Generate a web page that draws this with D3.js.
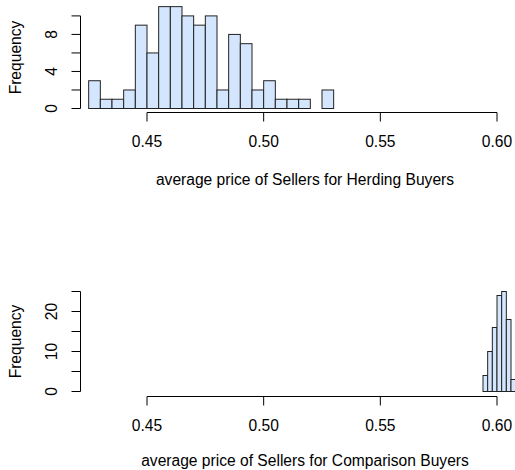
<!DOCTYPE html>
<html>
<head>
<meta charset="utf-8">
<script src="https://cdn.jsdelivr.net/npm/d3@7/dist/d3.min.js"></script>
<style>
  html, body { margin: 0; padding: 0; background: #fff; }
  svg { display: block; }
  text { font-family: "Liberation Sans", Arial, Helvetica, sans-serif; fill: #000; }
</style>
</head>
<body>
<svg id="chart" width="515" height="470"></svg>
<script>
// ---- data ----
// Herding buyers: histogram bins (width 0.005) starting at 0.425
const herdingBinStarts = [0.425, 0.430, 0.435, 0.440, 0.445, 0.450, 0.455, 0.460, 0.465, 0.470,
                          0.475, 0.480, 0.485, 0.490, 0.495, 0.500, 0.505, 0.510, 0.515, 0.520, 0.525];
const herdingCounts    = [3, 1, 1, 2, 9, 6, 11, 11, 10, 9, 10, 2, 8, 7, 2, 3, 1, 1, 1, 0, 2];
const herdingBinWidth  = 0.005;
// Comparison buyers: histogram bins (width 0.002) starting at 0.594
const comparisonBinStarts = [0.594, 0.596, 0.598, 0.600, 0.602, 0.604, 0.606];
const comparisonCounts    = [4, 10, 16, 24, 25, 18, 3];
const comparisonBinWidth  = 0.002;
// ticks
const xTicks = [0.45, 0.50, 0.55, 0.60];
const herdingYTicks = [0, 2, 4, 6, 8, 10];
const herdingYLabels = [0, 4, 8];
const comparisonYTicks = [0, 5, 10, 15, 20, 25];
const comparisonYLabels = [0, 10, 20];
const titles = ["average price of Sellers for Herding Buyers", "average price of Sellers for Comparison Buyers"];
const yTitle = "Frequency";

// ---- layout ----
const svg = d3.select("#chart");
const fontSize = 15.6;
const fill = "#d4e6fd";

function panel(opts) {
  const g = svg.append("g");
  const x = d3.scaleLinear().domain([0.45, 0.60]).range([147, 497]);
  const y = d3.scaleLinear().domain([0, opts.ymaxTick]).range([opts.y0, opts.yTop]);

  // bars
  g.selectAll("rect.bar")
    .data(opts.starts.map((s, i) => ({ s, c: opts.counts[i] })).filter(d => d.c > 0))
    .join("rect")
    .attr("class", "bar")
    .attr("x", d => x(d.s))
    .attr("width", d => x(d.s + opts.bw) - x(d.s))
    .attr("y", d => y(d.c))
    .attr("height", d => y(0) - y(d.c))
    .attr("fill", fill)
    .attr("stroke", "#222")
    .attr("stroke-width", 1);

  // x axis
  const xa = g.append("g").attr("transform", `translate(0,${opts.axisY})`);
  xa.append("line")
    .attr("x1", x(xTicks[0])).attr("x2", x(xTicks[xTicks.length - 1]))
    .attr("y1", 0).attr("y2", 0).attr("stroke", "#000");
  xa.selectAll("line.tick").data(xTicks).join("line").attr("class", "tick")
    .attr("x1", d => x(d)).attr("x2", d => x(d)).attr("y1", 0).attr("y2", 9).attr("stroke", "#000");
  xa.selectAll("text").data(xTicks).join("text")
    .attr("x", d => x(d)).attr("y", 34.5)
    .attr("text-anchor", "middle").attr("font-size", fontSize)
    .text(d => d3.format(".2f")(d));
  g.append("text")
    .attr("x", 305).attr("y", opts.titleY)
    .attr("text-anchor", "middle").attr("font-size", fontSize)
    .text(opts.title);

  // y axis
  const ya = g.append("g").attr("transform", `translate(80.5,0)`);
  ya.append("line")
    .attr("x1", 0).attr("x2", 0)
    .attr("y1", y(opts.yTicks[0])).attr("y2", y(opts.yTicks[opts.yTicks.length - 1]))
    .attr("stroke", "#000");
  ya.selectAll("line.tick").data(opts.yTicks).join("line").attr("class", "tick")
    .attr("x1", 0).attr("x2", -9).attr("y1", d => y(d)).attr("y2", d => y(d)).attr("stroke", "#000");
  ya.selectAll("text").data(opts.yLabels).join("text")
    .attr("transform", d => `translate(-23.5,${y(d)}) rotate(-90)`)
    .attr("text-anchor", "middle").attr("font-size", fontSize)
    .text(d => d);
  g.append("text")
    .attr("transform", `translate(20.5,${opts.midY}) rotate(-90)`)
    .attr("text-anchor", "middle").attr("font-size", fontSize)
    .text(yTitle);
}

panel({
  starts: herdingBinStarts, counts: herdingCounts, bw: herdingBinWidth,
  ymaxTick: 10, y0: 108.5, yTop: 15.9, axisY: 112.5, midY: 57.5, titleY: 185,
  yTicks: herdingYTicks, yLabels: herdingYLabels, title: titles[0]
});
panel({
  starts: comparisonBinStarts, counts: comparisonCounts, bw: comparisonBinWidth,
  ymaxTick: 25, y0: 391.5, yTop: 291.5, axisY: 396.5, midY: 341.5, titleY: 465.5,
  yTicks: comparisonYTicks, yLabels: comparisonYLabels, title: titles[1]
});
</script>
</body>
</html>
